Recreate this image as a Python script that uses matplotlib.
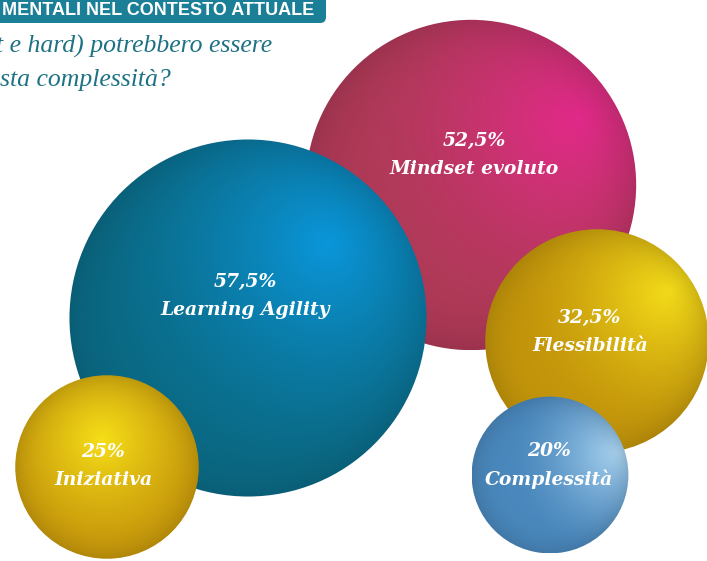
import numpy as np
import matplotlib
matplotlib.use('Agg')
import matplotlib.pyplot as plt
from matplotlib.patches import Circle, FancyBboxPatch
from matplotlib.colors import to_rgb

# bubble data (drawing order: back to front)
labels = ['Mindset evoluto', 'Learning Agility', 'Iniziativa', 'Flessibilità', 'Complessità']
values = [52.5, 57.5, 25, 32.5, 20]
bubble_x = [471, 248, 107, 597, 550]
bubble_y = [185, 318, 467, 341, 475]

header = 'MENTALI NEL CONTESTO ATTUALE'
question = ['t e hard) potrebbero essere', 'sta complessità?']

# colours: base, highlight, highlight position (relative to radius)
base_col = ['#b03a58', '#0b6b86', '#c8980b', '#c4960b', '#4a88bd']
light_col = ['#e62a8c', '#0a97dc', '#f6df18', '#f8e01a', '#acd6f3']
hl_u = [0.65, 0.45, -0.05, 0.65, 0.85]
hl_v = [-0.40, -0.42, -0.30, -0.45, -0.28]
label_x = [474, 245, 103, 590, 549]
label_y = [155, 296, 466, 332, 465]

W, H = 707, 561


def radius(v):
    # bubble radius in pixels
    return 25 + 2.67 * v


def sphere(ax, cx, cy, r, base, light, hu, hv, z):
    n = 360
    u = np.linspace(-1, 1, n)
    U, V = np.meshgrid(u, u)
    d = np.hypot(U - hu, V - hv)
    t = np.clip(1 - d / 1.35, 0, 1) ** 1.5
    b = np.array(to_rgb(base))
    l = np.array(to_rgb(light))
    rgb = b * (1 - t[..., None]) + l * t[..., None]
    rho = np.clip(np.hypot(U, V), 0, 1)
    rgb = rgb * (1 - 0.12 * rho[..., None] ** 6)
    rgb = np.clip(rgb, 0, 1)
    circ = Circle((cx, cy), r, transform=ax.transData, facecolor='none', edgecolor='none')
    ax.add_patch(circ)
    im = ax.imshow(rgb, extent=(cx - r, cx + r, cy + r, cy - r), origin='upper',
                   interpolation='bilinear', zorder=z)
    im.set_clip_path(circ)


fig = plt.figure(figsize=(W / 100, H / 100), dpi=100)
ax = fig.add_axes([0, 0, 1, 1])
ax.set_xlim(0, W)
ax.set_ylim(H, 0)
ax.axis('off')

# header banner and question
ax.add_patch(FancyBboxPatch((-20, -20), 346, 43, boxstyle='round,pad=0,rounding_size=6',
                            facecolor='#1a7f97', edgecolor='none', zorder=1))
ax.text(2, 15, header, color='white', fontsize=13, fontweight='bold',
        family='Liberation Sans', va='baseline', ha='left', zorder=2)
ax.text(-4, 53, question[0], color='#1d7284', fontsize=18.5, style='italic',
        family='Liberation Serif', va='baseline', ha='left')
ax.text(0, 86, question[1], color='#1d7284', fontsize=18.5, style='italic',
        family='Liberation Serif', va='baseline', ha='left')

for i in range(len(values)):
    r = radius(values[i])
    sphere(ax, bubble_x[i], bubble_y[i], r, base_col[i], light_col[i], hl_u[i], hl_v[i], 3 + i)
    pct = ('%g' % values[i]).replace('.', ',') + '%'
    ax.text(label_x[i], label_y[i] - 14, pct, color='white', fontsize=13.5, fontweight='bold',
            style='italic', family='DejaVu Serif', ha='center', va='center', zorder=20)
    ax.text(label_x[i], label_y[i] + 14, labels[i], color='white', fontsize=13.5, fontweight='bold',
            style='italic', family='DejaVu Serif', ha='center', va='center', zorder=20)

fig.savefig('out.png', dpi=100)
